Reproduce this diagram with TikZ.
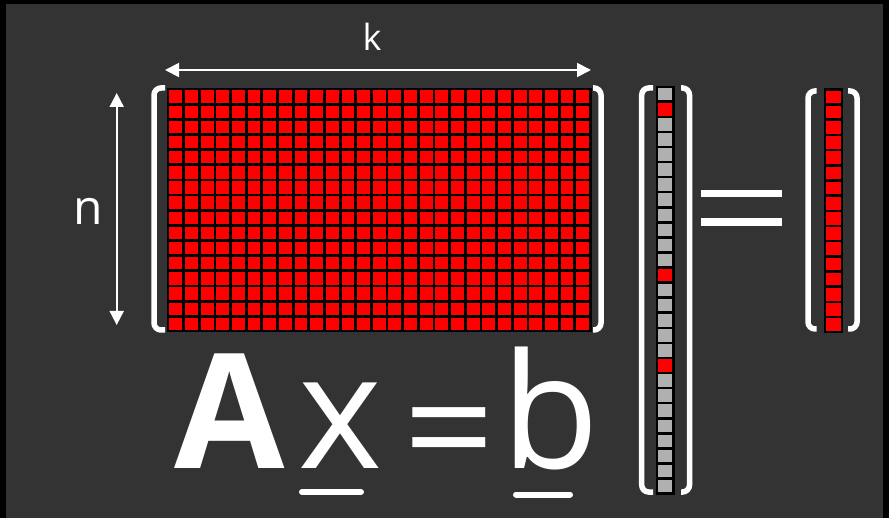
\documentclass[tikz,border=0pt]{standalone}
\usepackage{fontspec}
\setmainfont{Open Sans}
\usetikzlibrary{arrows.meta}
\definecolor{bgc}{RGB}{51,51,51}
\definecolor{cellred}{RGB}{255,0,0}
\definecolor{cellgray}{RGB}{176,176,176}
\begin{document}
\begin{tikzpicture}[x=1pt,y=-1pt,
  bracket/.style={draw=white,line width=5.5pt,rounded corners=7pt},
  dimarrow/.style={draw=white,line width=1.8pt,{Triangle[length=14pt,width=14pt]}-{Triangle[length=14pt,width=14pt]}},
  lbl/.style={text=white,inner sep=0pt},
  big/.style={text=white,inner sep=0pt,anchor=base,font=\fontsize{160}{160}\selectfont},
  uline/.style={draw=white,line width=6pt,line cap=round},
  bar/.style={fill=white}]
\useasboundingbox (0,0) rectangle (889,518);
\fill[black] (0,0) rectangle (889,518);
\fill[bgc] (6,4) rectangle (883,518);
% matrix A : 16 x 27
\fill[black] (167,88) rectangle (591.5,332.5);
\foreach \i in {0,...,26}{
  \foreach \j in {0,...,15}{
    \fill[cellred] ({168+\i*15.648+1.4},{89+\j*15.156+1.4}) rectangle ++(12.85,12.35);
  }
}
% vector x : 27 cells
\fill[black] (655.5,85.7) rectangle (674.5,494.5);
\foreach \j in {0,...,26}{
  \fill[cellgray] (657.7,{86.7+\j*15.07+1.3}) rectangle ++(14.6,12.47);
}
\foreach \j in {1,12,18}{
  \fill[cellred] (657.7,{86.7+\j*15.07+1.3}) rectangle ++(14.6,12.47);
}
% vector b : 16 cells
\fill[black] (824,88.3) rectangle (842.7,333.3);
\foreach \j in {0,...,15}{
  \fill[cellred] (826.2,{89.3+\j*15.19+1.3}) rectangle ++(14.3,12.6);
}
% brackets
\draw[bracket] (165,88) -- (154,88) -- (154,330) -- (165,330);
\draw[bracket] (593,88) -- (601,88) -- (601,330) -- (593,330);
\draw[bracket] (653,88) -- (641.7,88) -- (641.7,492) -- (653,492);
\draw[bracket] (681,88) -- (689.5,88) -- (689.5,492) -- (681,492);
\draw[bracket] (816.7,91) -- (808,91) -- (808,329) -- (816.7,329);
\draw[bracket] (848,91) -- (857,91) -- (857,329) -- (848,329);
% big equals between matrices
\fill[bar] (701,190) rectangle (781.7,197.3);
\fill[bar] (701,218.3) rectangle (781.7,226);
% dimension arrows
\coordinate (kL) at (165,70);
\coordinate (kR) at (591,70);
\coordinate (nT) at (116.7,93);
\coordinate (nB) at (116.7,325);
\draw[dimarrow] (kL) -- (kR);
\draw[dimarrow] (nT) -- (nB);
\node[lbl,font=\fontsize{36}{36}\selectfont] (k) at (372,37) {k};
\node[lbl,font=\fontsize{48}{48}\selectfont] (n) at (88,211) {n};
% equation
\node[big,font=\bfseries\fontsize{160}{160}\selectfont] (A) at (230,468) {A};
\node[big] (xv) at (340.5,468) {x};
\node[big,font=\fontsize{150}{150}\selectfont,xscale=1.07] (eq) at (449,480) {=};
\node[big] (bv) at (551,468) {b};
\draw[uline] (302,492) -- (361,492);
\draw[uline] (516,494.5) -- (570,494.5);
\end{tikzpicture}
\end{document}
